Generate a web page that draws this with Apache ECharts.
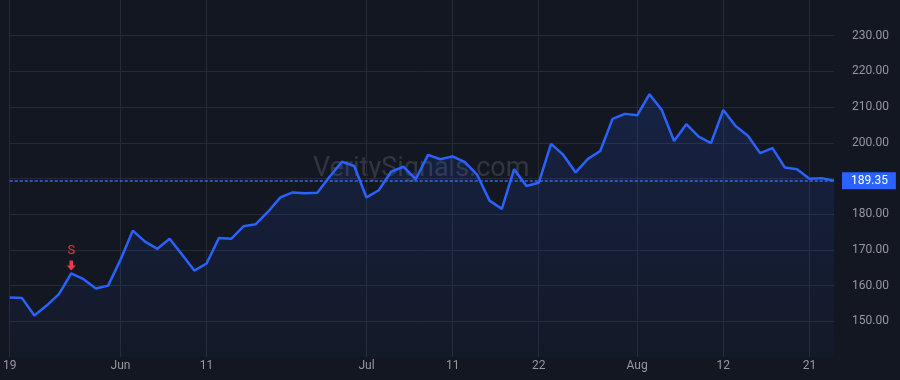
<!DOCTYPE html>
<html>
<head>
<meta charset="utf-8">
<title>Grafico precio</title>
<script src="https://cdn.jsdelivr.net/npm/echarts@6.0.0/dist/echarts.min.js"></script>
<style>
  html, body { margin: 0; padding: 0; background: #131722; }
  #grafico { width: 900px; height: 380px; }
</style>
</head>
<body>
<div id="grafico"></div>
<script>
// dias de mercado (mayo 19 - agosto 25)
const fechas = [
  '2025-05-19', '2025-05-20', '2025-05-21', '2025-05-22', '2025-05-23', '2025-05-27', '2025-05-28', '2025-05-29', '2025-05-30',
  '2025-06-02', '2025-06-03', '2025-06-04', '2025-06-05', '2025-06-06', '2025-06-09', '2025-06-10', '2025-06-11', '2025-06-12',
  '2025-06-13', '2025-06-16', '2025-06-17', '2025-06-18', '2025-06-20', '2025-06-23', '2025-06-24', '2025-06-25', '2025-06-26',
  '2025-06-27', '2025-06-30', '2025-07-01', '2025-07-02', '2025-07-03', '2025-07-07', '2025-07-08', '2025-07-09', '2025-07-10',
  '2025-07-11', '2025-07-14', '2025-07-15', '2025-07-16', '2025-07-17', '2025-07-18', '2025-07-21', '2025-07-22', '2025-07-23',
  '2025-07-24', '2025-07-25', '2025-07-28', '2025-07-29', '2025-07-30', '2025-07-31', '2025-08-01', '2025-08-04', '2025-08-05',
  '2025-08-06', '2025-08-07', '2025-08-08', '2025-08-11', '2025-08-12', '2025-08-13', '2025-08-14', '2025-08-15', '2025-08-18',
  '2025-08-19', '2025-08-20', '2025-08-21', '2025-08-22', '2025-08-25'
];

// precios de cierre
const cierres = [
  156.7, 156.5, 151.6, 154.4, 157.6, 163.4, 161.8, 159.2, 160.0,
  167.2, 175.4, 172.3, 170.3, 173.1, 168.7, 164.2, 166.2, 173.3,
  173.1, 176.6, 177.2, 180.7, 184.7, 186.1, 185.9, 186.0, 190.5,
  194.7, 193.5, 184.7, 186.7, 191.9, 193.3, 189.8, 196.6, 195.4,
  196.2, 194.6, 191.0, 183.8, 181.5, 192.6, 187.9, 188.8, 199.7,
  196.6, 191.7, 195.5, 197.7, 206.7, 208.1, 207.7, 213.6, 209.2,
  200.5, 205.2, 201.7, 199.9, 209.2, 204.7, 202.0, 197.1, 198.5,
  193.1, 192.6, 189.9, 190.1, 189.35
];

// etiquetas del eje x
const fechasEtiqueta = ['2025-05-19', '2025-06-02', '2025-06-11', '2025-07-01', '2025-07-11', '2025-07-22', '2025-08-01', '2025-08-12', '2025-08-21'];
const textosEtiqueta = ['19', 'Jun', '11', 'Jul', '11', '22', 'Aug', '12', '21'];

// señal de venta
const senalFecha = '2025-05-27';
const senalPrecio = 163.4;
const senalTexto = 'S';

const marcaAgua = 'VeritySignals.com';

document.addEventListener('DOMContentLoaded', function () {
  const chart = echarts.init(document.getElementById('grafico'));
  const ultimo = cierres[cierres.length - 1];
  const esEtiqueta = function (i, v) { return fechasEtiqueta.indexOf(v) >= 0; };

  chart.setOption({
    backgroundColor: '#131722',
    animation: false,
    textStyle: { fontFamily: 'Roboto, sans-serif' },
    grid: { left: 5, right: 66, top: 0, bottom: 23 },
    graphic: [{
      type: 'text',
      left: 313,
      top: 156,
      z: 0,
      style: {
        text: marcaAgua,
        fontSize: 27,
        fontFamily: 'Roboto, sans-serif',
        fill: 'rgba(255,255,255,0.13)'
      }
    }],
    xAxis: {
      type: 'category',
      data: fechas,
      boundaryGap: false,
      axisLine: { show: false },
      axisTick: { show: false },
      axisLabel: {
        interval: esEtiqueta,
        color: '#9598a1',
        fontSize: 12,
        margin: 3,
        formatter: function (v) { return textosEtiqueta[fechasEtiqueta.indexOf(v)]; }
      },
      splitLine: {
        show: true,
        interval: esEtiqueta,
        lineStyle: { color: '#262a35', width: 1 }
      }
    },
    yAxis: {
      type: 'value',
      position: 'right',
      min: 140,
      max: 240,
      interval: 10,
      axisLine: { show: false },
      axisTick: { show: false },
      axisLabel: {
        color: '#9598a1',
        fontSize: 12,
        margin: 18,
        showMinLabel: false,
        showMaxLabel: false,
        formatter: function (v) { return v.toFixed(2); }
      },
      splitLine: {
        showMinLine: false,
        showMaxLine: false,
        lineStyle: { color: '#262a35', width: 1 }
      }
    },
    series: [{
      name: 'Precio',
      type: 'line',
      data: cierres,
      symbol: 'none',
      z: 3,
      lineStyle: { color: '#2962ff', width: 2.5 },
      areaStyle: {
        color: new echarts.graphic.LinearGradient(0, 0, 0, 1, [
          { offset: 0, color: 'rgba(41,98,255,0.22)' },
          { offset: 1, color: 'rgba(41,98,255,0.04)' }
        ])
      },
      markLine: {
        silent: true,
        symbol: 'none',
        data: [{ yAxis: ultimo }],
        lineStyle: { color: '#2f6bff', type: [3, 2], width: 1.5, opacity: 1 },
        emphasis: { disabled: true },
        label: {
          position: 'end',
          distance: 8,
          formatter: ultimo.toFixed(2),
          color: '#ffffff',
          fontSize: 12,
          backgroundColor: '#2962ff',
          padding: [3, 8, 2, 9]
        }
      },
      markPoint: {
        silent: true,
        data: [{ coord: [senalFecha, senalPrecio] }],
        symbol: 'path://M3,0 H7 V5 H10 L5,10 L0,5 H3 Z',
        symbolSize: [9, 10],
        symbolOffset: [0, -8],
        itemStyle: { color: '#f23645' },
        label: {
          show: true,
          position: 'top',
          distance: 3,
          formatter: senalTexto,
          color: '#f23645',
          fontSize: 13
        }
      }
    }]
  });
});
</script>
</body>
</html>
